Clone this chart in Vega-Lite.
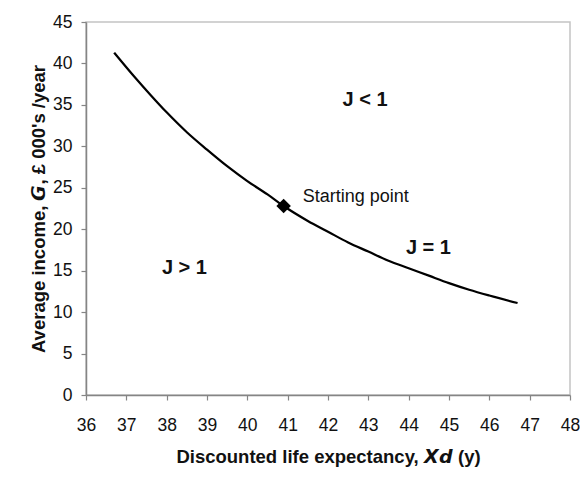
{
  "$schema": "https://vega.github.io/schema/vega-lite/v6.json",
  "width": 484,
  "height": 373,
  "autosize": {"type": "none"},
  "padding": {"left": 86, "top": 22, "right": 10, "bottom": 87},
  "background": "white",
  "config": {
    "font": "Liberation Sans",
    "view": {"stroke": "#c4c4c4", "strokeWidth": 1.5},
    "axis": {
      "grid": false,
      "labelFlush": false,
      "domainColor": "#858585",
      "domainWidth": 1.5,
      "tickColor": "#858585",
      "tickWidth": 1.2,
      "tickSize": 5,
      "labelColor": "#111111",
      "labelFont": "Liberation Sans",
      "labelFontSize": 17.5,
      "titleColor": "#111111",
      "titleFont": "Liberation Sans",
      "titleFontSize": 18.5,
      "titleFontWeight": "bold"
    }
  },
  "datasets": {
    "curve": [
      {"xd": 36.7, "g": 41.3},
      {"xd": 37.2, "g": 38.4},
      {"xd": 37.6, "g": 36.2},
      {"xd": 38.0, "g": 34.1},
      {"xd": 38.5, "g": 31.7},
      {"xd": 39.0, "g": 29.6},
      {"xd": 39.5, "g": 27.6},
      {"xd": 40.0, "g": 25.8},
      {"xd": 40.5, "g": 24.2},
      {"xd": 40.9, "g": 22.8},
      {"xd": 41.5, "g": 21.0},
      {"xd": 42.0, "g": 19.7},
      {"xd": 42.5, "g": 18.4},
      {"xd": 43.0, "g": 17.3},
      {"xd": 43.5, "g": 16.2},
      {"xd": 44.0, "g": 15.3},
      {"xd": 44.5, "g": 14.4},
      {"xd": 45.0, "g": 13.5},
      {"xd": 45.5, "g": 12.7},
      {"xd": 46.0, "g": 12.0},
      {"xd": 46.7, "g": 11.1}
    ],
    "start": [{"xd": 40.9, "g": 22.8, "label": "Starting point"}],
    "regions": [
      {"xd": 42.92, "g": 35.6, "label": "J < 1"},
      {"xd": 38.44, "g": 15.3, "label": "J > 1"},
      {"xd": 44.49, "g": 17.7, "label": "J = 1"}
    ]
  },
  "layer": [
    {
      "data": {"name": "curve"},
      "mark": {"type": "line", "color": "black", "strokeWidth": 2.2, "interpolate": "monotone"},
      "encoding": {
        "x": {
          "field": "xd", "type": "quantitative",
          "scale": {"domain": [36, 48], "nice": false, "zero": false},
          "axis": {"values": [36, 37, 38, 39, 40, 41, 42, 43, 44, 45, 46, 47, 48], "labelPadding": 16, "titlePadding": 14, "title": "Discounted life expectancy, 𝙓𝙙 (y)"}
        },
        "y": {
          "field": "g", "type": "quantitative",
          "scale": {"domain": [0, 45], "nice": false},
          "axis": {"values": [0, 5, 10, 15, 20, 25, 30, 35, 40, 45], "labelPadding": 9, "titlePadding": 4, "title": "Average income, 𝙂, £ 000's /year"}
        }
      }
    },
    {
      "data": {"name": "start"},
      "mark": {"type": "point", "shape": "diamond", "filled": true, "color": "black", "size": 210, "opacity": 1},
      "encoding": {
        "x": {"field": "xd", "type": "quantitative"},
        "y": {"field": "g", "type": "quantitative"}
      }
    },
    {
      "data": {"name": "start"},
      "mark": {"type": "text", "align": "left", "baseline": "middle", "dx": 19, "dy": -9, "fontSize": 18, "color": "#111111"},
      "encoding": {
        "x": {"field": "xd", "type": "quantitative"},
        "y": {"field": "g", "type": "quantitative"},
        "text": {"field": "label"}
      }
    },
    {
      "data": {"name": "regions"},
      "mark": {"type": "text", "align": "center", "baseline": "middle", "fontSize": 20, "fontWeight": "bold", "color": "#111111"},
      "encoding": {
        "x": {"field": "xd", "type": "quantitative"},
        "y": {"field": "g", "type": "quantitative"},
        "text": {"field": "label"}
      }
    }
  ]
}
